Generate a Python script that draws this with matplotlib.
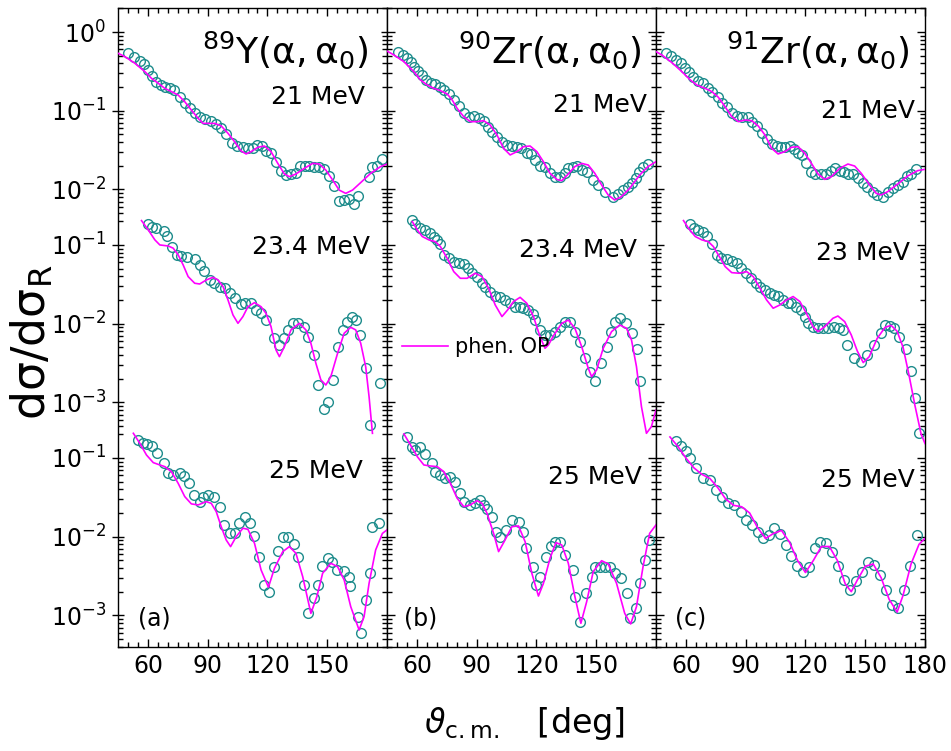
import numpy as np
import matplotlib.pyplot as plt
from matplotlib.ticker import FixedLocator, FixedFormatter, NullFormatter

# ---- 89Y(a,a0) ----
y21_deg = [50.2, 53.2, 56.0, 58.2, 60.2, 62.2, 64.3, 66.8, 68.8, 71.0, 73.2, 76.0, 78.8, 81.0, 83.5,
           86.0, 88.8, 91.8, 94.3, 96.8, 99.3, 102.2, 104.8, 107.7, 110.2, 112.7, 114.8, 117.2, 119.5,
           121.8, 124.3, 126.8, 129.3, 131.8, 134.3, 136.5, 138.8, 141.0, 143.5, 146.0, 148.5, 151.0,
           153.5, 156.0, 158.5, 161.0, 163.2, 165.5, 171.0, 172.7, 175.2, 177.3]
y21_xs = [0.536, 0.476, 0.433, 0.388, 0.329, 0.276, 0.234, 0.212, 0.202, 0.192, 0.183, 0.151, 0.126,
          0.107, 0.0927, 0.0840, 0.0792, 0.0740, 0.0671, 0.0597, 0.0501, 0.0385, 0.0360, 0.0343,
          0.0333, 0.0333, 0.0366, 0.0357, 0.0311, 0.0293, 0.0225, 0.0173, 0.0152, 0.0156, 0.0163,
          0.0200, 0.0200, 0.0200, 0.0195, 0.0195, 0.0182, 0.0148, 0.0110, 0.00713, 0.00733, 0.00748,
          0.00646, 0.00824, 0.0145, 0.0195, 0.0200, 0.0243]
y21_fit_deg = [43.5, 48.5, 53.5, 58.5, 61.8, 65.2, 68.5, 71.8, 75.2, 78.5, 81.8, 85.2, 87.7, 90.2, 93.5,
               96.8, 100.2, 103.5, 106.8, 109.3, 111.8, 115.2, 118.5, 121.8, 125.2, 128.5, 131.0, 134.3,
               138.5, 142.7, 146.0, 149.3, 152.7, 156.0, 159.3, 162.7, 166.8, 171.8, 176.8, 180.0]
y21_fit = [0.562, 0.486, 0.400, 0.313, 0.258, 0.223, 0.192, 0.175, 0.158, 0.130, 0.102, 0.080, 0.069,
           0.069, 0.069, 0.064, 0.0516, 0.0404, 0.0308, 0.0282, 0.0302, 0.0343, 0.0356, 0.0302, 0.0214,
           0.0157, 0.0145, 0.0157, 0.0185, 0.0214, 0.0210, 0.0176, 0.0132, 0.0098, 0.0089, 0.0098,
           0.0122, 0.0160, 0.0195, 0.021]

y23_deg = [60.2, 62.2, 64.3, 68.2, 69.8, 72.2, 74.8, 76.8, 79.8, 83.5, 86.0, 88.2, 91.0, 93.0, 96.0,
           98.5, 101.0, 103.5, 106.5, 108.8, 111.5, 114.3, 116.8, 119.3, 123.5, 126.0, 128.5,
           130.2, 132.7, 135.2, 138.5, 140.5, 143.5, 145.5, 148.2, 150.5, 152.7, 155.5, 157.7, 159.8,
           162.2, 164.3, 166.5, 169.3, 171.5, 176.5]
y23_xs = [0.185, 0.171, 0.163, 0.152, 0.130, 0.0953, 0.0747, 0.0725, 0.0697, 0.0657, 0.0557, 0.0472,
          0.0359, 0.0326, 0.0296, 0.0281, 0.0243, 0.0210, 0.0178, 0.0181, 0.0185, 0.0149, 0.0135,
          0.0110, 0.00651, 0.00536, 0.00651, 0.00832, 0.0101, 0.0103, 0.00917, 0.00684, 0.00400,
          0.00166, 0.000816, 0.00102, 0.00192, 0.00501, 0.0083, 0.0106, 0.0123, 0.0111, 0.0072, 0.0027,
          0.000516, 0.00175]
y23_fit_deg = [56.8, 60.2, 63.5, 66.0, 70.2, 72.7, 75.2, 77.7, 80.2, 83.5, 86.0, 89.3, 92.7, 95.2, 97.7,
               100.2, 102.7, 105.2, 107.7, 110.2, 113.5, 116.8, 119.3, 121.8, 124.3, 126.0, 128.5, 131.8,
               136.0, 139.3, 141.8, 144.3, 146.8, 149.3, 151.8, 155.2, 158.5, 161.8, 164.3, 166.8, 169.3,
               171.0, 172.7]
y23_fit = [0.204, 0.155, 0.116, 0.100, 0.097, 0.091, 0.0747, 0.0557, 0.0396, 0.0326, 0.0319, 0.0359,
           0.0388, 0.0359, 0.0296, 0.0200, 0.0129, 0.0101, 0.0123, 0.0164, 0.0185, 0.0164, 0.0135,
           0.00917, 0.00463, 0.00381, 0.00510, 0.00832, 0.0101, 0.00832, 0.00564, 0.00314, 0.00193,
           0.00166, 0.00212, 0.00420, 0.00755, 0.00899, 0.00832, 0.00564, 0.00284, 0.00118, 0.000404]

y25_deg = [55.2, 57.7, 59.8, 62.2, 64.8, 68.2, 70.2, 72.7, 76.0, 78.2, 80.5, 83.2, 86.0, 87.7, 90.2,
           93.0, 96.0, 98.2, 101.0, 103.5, 105.5, 108.5, 111.0, 113.5, 116.0, 118.2, 121.0, 123.5,
           125.2, 128.0, 130.2, 133.2, 135.2, 138.2, 140.2, 143.2, 145.5, 147.2, 150.2, 152.2, 154.8,
           158.2, 161.0, 161.5, 165.2, 166.8, 169.3, 171.5, 172.7, 176.0]
y25_xs = [0.169, 0.157, 0.151, 0.142, 0.115, 0.0855, 0.0651, 0.0608, 0.0651, 0.0591, 0.0476, 0.0339,
          0.0279, 0.0323, 0.0339, 0.0316, 0.0241, 0.0141, 0.0110, 0.0110, 0.0148, 0.0180, 0.0148,
          0.0102, 0.00547, 0.00243, 0.00200, 0.00416, 0.00665, 0.00982, 0.0100, 0.00807, 0.00547,
          0.00243, 0.00106, 0.00165, 0.00243, 0.00425, 0.00531, 0.00482, 0.00378, 0.00370, 0.00305,
          0.00237, 0.000944, 0.000591, 0.00157, 0.00349, 0.0132, 0.0151]
y25_fit_deg = [52.7, 56.0, 59.3, 62.7, 66.0, 68.5, 71.8, 75.2, 78.5, 81.8, 85.2, 89.3, 91.8, 94.3, 96.8,
               99.3, 101.5, 104.3, 107.7, 110.2, 113.5, 116.8, 120.5, 123.5, 127.7, 131.0, 134.3, 137.7,
               141.8, 144.8, 147.7, 151.8, 155.2, 158.5, 161.8, 166.0, 168.5, 171.0, 174.3, 177.7, 180.0]
y25_fit = [0.206, 0.153, 0.109, 0.0873, 0.0815, 0.0776, 0.0670, 0.0476, 0.0323, 0.0261, 0.0253, 0.0279,
           0.0265, 0.0208, 0.0134, 0.00908, 0.00747, 0.0100, 0.0128, 0.0124, 0.00824, 0.00378, 0.00228,
           0.00396, 0.00646, 0.00747, 0.00615, 0.00310, 0.00106, 0.00173, 0.00343, 0.00459, 0.00416,
           0.00282, 0.00129, 0.000652, 0.000964, 0.00255, 0.00678, 0.0110, 0.0122]

# ---- 90Zr(a,a0) ----
zr90_21_deg = [50.5, 53.2, 55.2, 57.2, 58.8, 60.5, 62.7, 64.8, 67.2, 69.3, 71.5, 73.5, 76.0, 78.5, 81.0,
               83.8, 86.0, 88.5, 91.0, 93.5, 95.5, 97.7, 100.2, 102.7, 105.2, 107.7, 110.2, 112.2, 115.2,
               117.2, 119.3, 121.8, 124.3, 126.8, 129.3, 131.8, 134.3, 136.0, 138.2, 140.2, 142.7, 145.5,
               148.5, 151.0, 154.3, 158.5, 161.0, 163.5, 166.0, 168.2, 169.8, 171.5, 173.5, 176.0]
zr90_21_xs = [0.562, 0.510, 0.463, 0.420, 0.363, 0.323, 0.284, 0.246, 0.227, 0.218, 0.202, 0.183, 0.163,
              0.137, 0.115, 0.0927, 0.0840, 0.0857, 0.0815, 0.0747, 0.0627, 0.0542, 0.0468, 0.0404,
              0.0366, 0.0356, 0.0343, 0.0333, 0.0293, 0.0282, 0.0236, 0.0198, 0.0191, 0.0163, 0.0145,
              0.0142, 0.0160, 0.0185, 0.0195, 0.0200, 0.0177, 0.0168, 0.0132, 0.0114, 0.00936, 0.00809,
              0.00874, 0.00982, 0.0108, 0.0119, 0.0138, 0.0168, 0.0195, 0.0210]
zr90_21_fit_deg = [43.5, 48.5, 53.5, 58.5, 61.8, 65.2, 68.5, 71.8, 75.2, 77.7, 80.2, 83.5, 86.8, 90.2,
                   93.5, 96.8, 100.2, 103.5, 106.8, 110.2, 113.5, 116.8, 120.2, 123.5, 126.8, 130.2,
                   132.7, 136.0, 139.3, 142.7, 146.0, 149.3, 152.7, 156.0, 159.3, 162.7, 166.8, 171.8,
                   176.0, 180.0]
zr90_21_fit = [0.602, 0.510, 0.420, 0.313, 0.246, 0.212, 0.192, 0.180, 0.163, 0.137, 0.107, 0.0840,
               0.0726, 0.0726, 0.0747, 0.0658, 0.0491, 0.0333, 0.0274, 0.0302, 0.0349, 0.0356, 0.0302,
               0.0225, 0.0160, 0.0134, 0.0129, 0.0157, 0.0195, 0.0214, 0.0204, 0.0160, 0.0114, 0.00849,
               0.00733, 0.00809, 0.0103, 0.0152, 0.0195, 0.0225]

zr90_23_deg = [57.7, 59.3, 61.5, 64.3, 66.5, 68.5, 70.2, 71.8, 73.5, 76.0, 78.5, 81.0, 83.5, 85.5, 87.7,
               90.2, 92.7, 94.3, 96.5, 99.3, 101.8, 104.3, 106.8, 109.3, 111.5, 113.5, 116.0, 118.2,
               119.3, 121.8, 124.3, 126.8, 129.3, 131.8, 134.3, 136.8, 139.3, 141.8, 144.3, 146.8, 149.3,
               152.2, 155.5, 157.3, 159.3, 161.8, 164.8, 168.2, 170.5, 171.8]
zr90_23_xs = [0.208, 0.185, 0.163, 0.155, 0.141, 0.128, 0.116, 0.103, 0.0746, 0.0677, 0.0614, 0.0597,
              0.0574, 0.0506, 0.0437, 0.0396, 0.0326, 0.0296, 0.0255, 0.0225, 0.0216, 0.0200, 0.0181,
              0.0164, 0.0161, 0.0157, 0.0149, 0.0133, 0.0111, 0.00832, 0.00718, 0.00718, 0.00792,
              0.00917, 0.0106, 0.0106, 0.00792, 0.00592, 0.00363, 0.00246, 0.00184, 0.00314, 0.00510,
              0.00792, 0.0106, 0.0117, 0.0103, 0.00769, 0.00472, 0.00184]
zr90_23_fit_deg = [57.7, 60.2, 62.7, 66.0, 69.3, 71.8, 75.2, 78.5, 81.8, 85.2, 89.3, 92.7, 96.0, 99.3,
                   102.7, 105.5, 108.5, 111.8, 115.2, 118.5, 121.8, 124.3, 126.0, 128.8, 132.7, 136.0,
                   139.3, 142.7, 146.0, 147.7, 150.2, 153.5, 157.7, 161.8, 165.2, 167.7, 170.2, 172.7,
                   175.2, 177.7, 180.0]
zr90_23_fit = [0.198, 0.155, 0.128, 0.116, 0.110, 0.0953, 0.0677, 0.0458, 0.0377, 0.0377, 0.0437,
               0.0396, 0.0281, 0.0173, 0.0123, 0.0149, 0.0191, 0.0216, 0.0181, 0.0123, 0.00684, 0.00486,
               0.00536, 0.00718, 0.0101, 0.0111, 0.00873, 0.00510, 0.00271, 0.00212, 0.00258, 0.00486,
               0.00792, 0.00962, 0.00873, 0.00621, 0.00284, 0.000881, 0.000404, 0.000491, 0.000800]

zr90_25_deg = [54.8, 57.7, 59.3, 61.5, 64.3, 67.7, 69.3, 71.5, 74.3, 76.8, 79.3, 81.8, 83.5, 86.5, 89.3,
               91.8, 93.5, 95.2, 97.7, 99.8, 101.8, 104.8, 107.7, 111.0, 113.2, 114.8, 118.2, 119.8,
               121.8, 124.8, 127.2, 129.3, 131.8, 134.3, 138.2, 139.3, 141.8, 144.7, 147.7, 149.3, 151.8,
               154.3, 156.8, 159.3, 162.2, 165.2, 167.2, 170.2, 171.8, 174.3, 176.5]
zr90_25_xs = [0.187, 0.137, 0.126, 0.137, 0.112, 0.0873, 0.0670, 0.0608, 0.0552, 0.0579, 0.0500, 0.0363,
              0.0279, 0.0253, 0.0271, 0.0293, 0.0253, 0.0223, 0.0180, 0.0116, 0.0100, 0.0122, 0.0163,
              0.0155, 0.0116, 0.00711, 0.00408, 0.00243, 0.00310, 0.00557, 0.00762, 0.00865, 0.00865,
              0.00586, 0.00378, 0.00173, 0.000832, 0.00191, 0.00310, 0.00408, 0.00408, 0.00408, 0.00408,
              0.00343, 0.00296, 0.00191, 0.000918, 0.00123, 0.00255, 0.00506, 0.00908]
zr90_25_fit_deg = [53.5, 56.8, 60.2, 63.5, 66.8, 70.2, 73.5, 76.8, 80.2, 83.5, 86.8, 90.2, 92.7, 95.2,
                   98.5, 101.0, 103.8, 107.7, 111.0, 114.3, 117.7, 121.0, 123.5, 126.8, 129.8, 132.7,
                   136.0, 139.3, 142.3, 145.2, 148.5, 152.7, 156.0, 160.2, 164.3, 167.3, 170.2, 173.5,
                   176.8, 180.0]
zr90_25_fit = [0.202, 0.146, 0.104, 0.0815, 0.0791, 0.0776, 0.0670, 0.0476, 0.0308, 0.0241, 0.0253,
               0.0287, 0.0265, 0.0198, 0.0110, 0.00646, 0.00865, 0.0134, 0.0137, 0.00865, 0.00342,
               0.00176, 0.00255, 0.00531, 0.00840, 0.00785, 0.00459, 0.00173, 0.000793, 0.00149,
               0.00360, 0.00495, 0.00450, 0.00255, 0.00106, 0.000778, 0.00129, 0.00416, 0.0110, 0.0141]

# ---- 91Zr(a,a0) ----
zr91_21_deg = [50.0, 52.7, 55.0, 57.7, 59.7, 61.7, 63.8, 66.3, 68.8, 71.3, 73.3, 76.0, 78.0, 80.5, 83.0,
               85.5, 88.0, 91.3, 93.0, 95.5, 98.0, 100.5, 103.0, 105.5, 107.7, 109.7, 112.2, 114.3,
               116.3, 118.3, 120.5, 123.0, 125.0, 128.0, 130.5, 133.0, 135.0, 137.2, 139.3, 141.3, 143.8,
               146.3, 148.8, 151.0, 153.8, 156.0, 158.8, 161.3, 163.8, 166.3, 168.8, 171.0, 173.0, 175.5]
zr91_21_xs = [0.546, 0.495, 0.441, 0.400, 0.345, 0.313, 0.271, 0.241, 0.223, 0.192, 0.175, 0.148, 0.126,
              0.110, 0.0944, 0.0857, 0.0840, 0.0824, 0.0726, 0.0640, 0.0516, 0.0433, 0.0378, 0.0356,
              0.0343, 0.0343, 0.0356, 0.0323, 0.0293, 0.0274, 0.0214, 0.0168, 0.0157, 0.0157, 0.0157,
              0.0173, 0.0185, 0.0173, 0.0168, 0.0157, 0.0157, 0.0138, 0.0119, 0.0108, 0.00936, 0.00849,
              0.00809, 0.00936, 0.0103, 0.0114, 0.0125, 0.0148, 0.0155, 0.0180]
zr91_21_fit_deg = [43.0, 48.0, 53.0, 58.0, 62.2, 65.5, 69.7, 73.0, 76.3, 79.7, 83.0, 86.3, 89.7, 93.0,
                   96.3, 99.7, 103.0, 106.3, 109.7, 113.0, 116.3, 119.7, 123.0, 126.3, 129.7, 133.0,
                   137.2, 141.3, 144.7, 148.0, 152.2, 155.5, 158.0, 161.3, 166.3, 171.3, 176.3, 180.0]
zr91_21_fit = [0.602, 0.510, 0.408, 0.313, 0.246, 0.212, 0.192, 0.175, 0.148, 0.112, 0.0840, 0.0726,
               0.0762, 0.0747, 0.0640, 0.0491, 0.0333, 0.0282, 0.0302, 0.0343, 0.0349, 0.0287, 0.0214,
               0.0157, 0.0134, 0.0145, 0.0185, 0.0210, 0.0198, 0.0160, 0.0114, 0.00891, 0.00849,
               0.00936, 0.0117, 0.0148, 0.0173, 0.0180]

zr91_23_deg = [62.2, 64.3, 66.3, 68.8, 70.5, 73.0, 75.5, 77.7, 80.5, 83.0, 85.5, 87.7, 90.0, 92.7, 95.0,
               97.2, 99.7, 102.2, 104.3, 106.3, 108.8, 111.0, 113.0, 115.5, 117.7, 119.7, 121.3, 123.8,
               126.3, 128.8, 131.3, 134.3, 136.7, 138.8, 141.0, 144.5, 148.0, 151.0, 154.5, 158.0, 159.7,
               162.2, 164.3, 167.2, 170.5, 173.0, 175.0, 177.0]
zr91_23_xs = [0.185, 0.163, 0.155, 0.148, 0.130, 0.103, 0.0746, 0.0677, 0.0657, 0.0632, 0.0585, 0.0506,
              0.0437, 0.0377, 0.0326, 0.0296, 0.0268, 0.0243, 0.0232, 0.0225, 0.0200, 0.0185, 0.0181,
              0.0161, 0.0147, 0.0121, 0.0103, 0.0090, 0.00873, 0.00873, 0.00873, 0.0090, 0.00873, 0.0083,
              0.0054, 0.0037, 0.0033, 0.0040, 0.0054, 0.0076, 0.0096, 0.0092, 0.0087, 0.0068, 0.0047,
              0.0025, 0.00115, 0.00041]
zr91_23_fit_deg = [58.8, 61.3, 64.7, 68.0, 71.3, 73.8, 76.3, 79.7, 83.0, 86.7, 90.5, 93.8, 97.2, 100.5,
                   103.8, 107.2, 110.5, 113.8, 117.2, 120.5, 123.8, 126.3, 129.7, 133.8, 136.3, 139.7,
                   143.0, 146.0, 149.0, 152.0, 156.0, 160.0, 163.0, 166.0, 169.0, 172.0, 175.0, 178.0,
                   180.0]
zr91_23_fit = [0.204, 0.163, 0.128, 0.116, 0.110, 0.0953, 0.0746, 0.0531, 0.0445, 0.0437, 0.0458,
               0.0396, 0.0281, 0.0200, 0.0157, 0.0173, 0.0200, 0.0221, 0.0191, 0.0135, 0.00917, 0.00792,
               0.00917, 0.0117, 0.0125, 0.0106, 0.00718, 0.0045, 0.0032, 0.0038, 0.0065, 0.0090, 0.0095,
               0.0080, 0.0050, 0.0022, 0.0009, 0.0004, 0.0003]

zr91_25_deg = [55, 57.5, 60, 62, 65, 68.5, 72, 75, 78, 81, 84, 87.5, 90, 93, 96, 98.5, 101.5, 104, 107,
               110, 113, 116, 119, 122, 125, 127.5, 130.5, 133.5, 136.5, 139.5, 142.5, 145.5, 148.5,
               151.5, 154.5, 157.5, 160.5, 163.5, 166.5, 169.5, 172.5, 176]
zr91_25_xs = [0.164, 0.142, 0.123, 0.100, 0.0746, 0.0557, 0.0525, 0.0392, 0.0319, 0.0268, 0.0253, 0.0206,
              0.0163, 0.0141, 0.0115, 0.0096, 0.0105, 0.0129, 0.0108, 0.0079, 0.0057, 0.0043, 0.0036,
              0.0041, 0.0072, 0.0086, 0.0083, 0.0064, 0.0043, 0.0028, 0.0021, 0.0027, 0.0036, 0.0047,
              0.0044, 0.0033, 0.0021, 0.00135, 0.00123, 0.0021, 0.0043, 0.0105]
zr91_25_fit_deg = [52, 56, 60, 64, 68, 72, 76, 80, 84, 88, 92, 96, 100, 104, 108, 112, 116, 120, 124, 128,
                   132, 136, 140, 143, 146, 150, 154, 158, 162, 166, 169, 173, 177, 180]
zr91_25_fit = [0.185, 0.14, 0.10, 0.075, 0.062, 0.055, 0.042, 0.030, 0.025, 0.024, 0.020, 0.013, 0.0095,
               0.011, 0.012, 0.0085, 0.0050, 0.0035, 0.0050, 0.0075, 0.0075, 0.0050, 0.0025, 0.0020,
               0.0028, 0.0042, 0.0045, 0.0030, 0.0016, 0.0011, 0.0018, 0.0045, 0.008, 0.0095]

titles = [r'$\mathregular{^{89}Y(α,α_{0})}$', r'$\mathregular{^{90}Zr(α,α_{0})}$',
          r'$\mathregular{^{91}Zr(α,α_{0})}$']
energies = [['21 MeV', '23.4 MeV', '25 MeV'],
            ['21 MeV', '23.4 MeV', '25 MeV'],
            ['21 MeV', '23 MeV', '25 MeV']]
panel_tags = ['(a)', '(b)', '(c)']

# each energy is shifted down on the common log axis
shift_dec = [0.0, -1.706, -4.413]
shifts = [10 ** s for s in shift_dec]

panels = [
    [(y21_deg, y21_xs, y21_fit_deg, y21_fit),
     (y23_deg, y23_xs, y23_fit_deg, y23_fit),
     (y25_deg, y25_xs, y25_fit_deg, y25_fit)],
    [(zr90_21_deg, zr90_21_xs, zr90_21_fit_deg, zr90_21_fit),
     (zr90_23_deg, zr90_23_xs, zr90_23_fit_deg, zr90_23_fit),
     (zr90_25_deg, zr90_25_xs, zr90_25_fit_deg, zr90_25_fit)],
    [(zr91_21_deg, zr91_21_xs, zr91_21_fit_deg, zr91_21_fit),
     (zr91_23_deg, zr91_23_xs, zr91_23_fit_deg, zr91_23_fit),
     (zr91_25_deg, zr91_25_xs, zr91_25_fit_deg, zr91_25_fit)],
]

DOT = '#1e8c8c'
FIT = '#ff00ff'

# tick positions: labelled decades and minor ticks, per block
block_dec = [[0, -1, -2], [-1, -2, -3], [-1, -2, -3]]
block_span = [(-2.36, 0.31), (-3.35, -0.64), (-3.40, -0.64)]
major_pos, major_lab, minor_pos = [], [], []
for b in range(3):
    for d in block_dec[b]:
        major_pos.append(10.0 ** d * shifts[b])
        major_lab.append(r'$10^{%d}$' % d)
    lo, hi = block_span[b]
    for k in range(-5, 1):
        for m in range(2, 10):
            v = m * 10.0 ** k
            if lo <= np.log10(v) <= hi:
                minor_pos.append(v * shifts[b])

fig = plt.figure(figsize=(9.51, 7.51), dpi=100)
left, bottom, width, height = 118 / 951, 1 - 647 / 751, 269 / 951, 639 / 751

title_x = [0.929, 0.948, 0.944]
e_pos = [[(0.918, 0.861), (0.937, 0.626), (0.911, 0.275)],
         [(0.967, 0.848), (0.929, 0.621), (0.948, 0.266)],
         [(0.963, 0.839), (0.944, 0.617), (0.963, 0.261)]]
tag_x = [0.074, 0.063, 0.071]

for p in range(3):
    ax = fig.add_axes([left + p * width, bottom, width, height])
    ax.set_yscale('log')
    for b, (deg, xs, fdeg, fit) in enumerate(panels[p]):
        s = shifts[b]
        ax.plot(deg, np.array(xs) * s, 'o', mfc='none', mec=DOT, ms=7.0, mew=1.0, zorder=2)
        lab = 'phen. OP' if (p == 1 and b == 0) else None
        ax.plot(fdeg, np.array(fit) * s, '-', color=FIT, lw=1.2, zorder=3, label=lab)

    ax.set_xlim(45, 180)
    ax.set_ylim(10 ** -7.815, 10 ** 0.305)

    ax.yaxis.set_major_locator(FixedLocator(major_pos))
    ax.yaxis.set_minor_locator(FixedLocator(minor_pos))
    ax.yaxis.set_minor_formatter(NullFormatter())
    if p == 0:
        ax.yaxis.set_major_formatter(FixedFormatter(major_lab))
    else:
        ax.yaxis.set_major_formatter(NullFormatter())

    xt = [60, 90, 120, 150, 180] if p == 2 else [60, 90, 120, 150]
    ax.set_xticks(xt)
    ax.set_xticklabels([str(t) for t in xt])
    ax.set_xticks(np.arange(50, 180, 5), minor=True)

    ax.tick_params(which='both', direction='in', top=True, right=True, width=1.0)
    ax.tick_params(which='major', length=6)
    ax.tick_params(which='minor', length=3.5)
    ax.tick_params(axis='x', labelsize=17, pad=5)
    ax.tick_params(axis='y', labelsize=17, pad=4)
    if p == 0:
        ax.tick_params(axis='y', which='major', direction='inout', length=9)
    for sp in ax.spines.values():
        sp.set_linewidth(1.0)

    ax.text(title_x[p], 0.914, titles[p], transform=ax.transAxes, ha='right', va='baseline',
            fontsize=26)
    for b in range(3):
        ex, ey = e_pos[p][b]
        ax.text(ex, ey, energies[p][b], transform=ax.transAxes, ha='right', va='center', fontsize=18)
    ax.text(tag_x[p], 0.045, panel_tags[p], transform=ax.transAxes, ha='left', va='center',
            fontsize=17)

    if p == 1:
        ax.legend(loc='center left', bbox_to_anchor=(0.056, 0.469), frameon=False, fontsize=15,
                  handlelength=2.2, handletextpad=0.35, borderpad=0, borderaxespad=0)

fig.text(32 / 951, 1 - 342 / 751, r'$\mathregular{dσ/dσ_{R}}$', rotation=90, ha='center',
         va='center', fontsize=33)
fig.text(525 / 951, 1 - 724 / 751, r'$\vartheta_{\mathregular{c.m.}}$' + '   [deg]', ha='center',
         va='center', fontsize=24)

fig.savefig('out.png', dpi=100)
